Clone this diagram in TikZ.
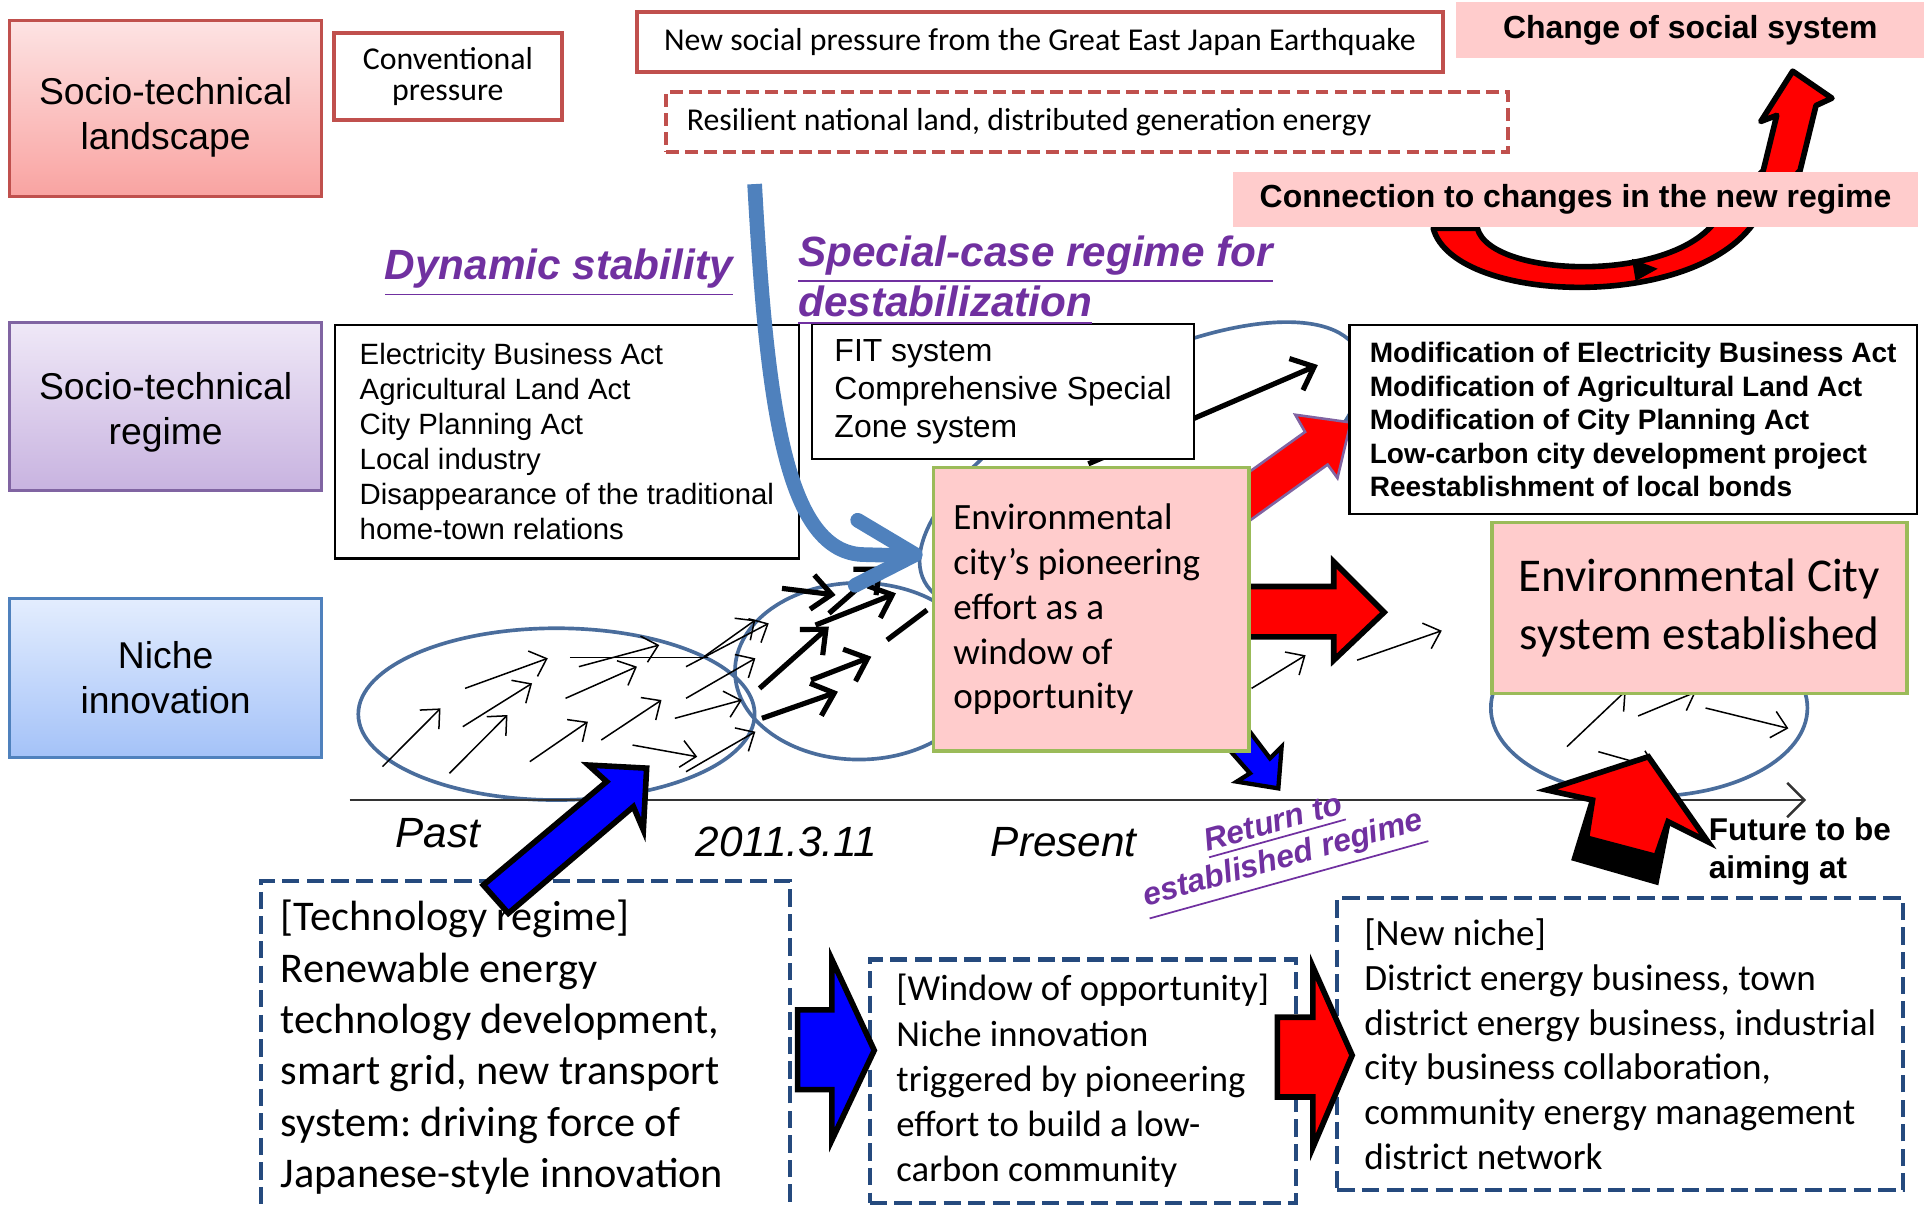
\documentclass[tikz,border=0pt]{standalone}
\usepackage{fontspec}
\setmainfont{Liberation Sans}
\newfontfamily\calfont{Carlito}
\usetikzlibrary{arrows.meta}
\newcommand{\fsz}[2]{\fontsize{#1}{#2}\selectfont}
\newcommand{\lowered}[2]{\raisebox{-#1}[\height][\depth]{#2}}
\frenchspacing

\begin{document}
\begin{tikzpicture}[x=0.01cm, y=-0.01cm,
    levelbox/.style={draw, line width=0.7pt, minimum width=2.54cm, align=center, font=\fsz{8.65}{10.4}},
    pressbox/.style={draw=boxred, line width=0.9pt, fill=white, font=\calfont\fsz{7.37}{7.3}},
    pinkbar/.style={fill=pinkfill, inner sep=0pt, font=\bfseries\fsz{7.4}{9}},
    lawbox/.style={draw, line width=0.6pt, fill=white, align=left},
    citybox/.style={draw=boxgreen, line width=0.8pt, fill=pinkfill, font=\calfont},
    nichebox/.style={draw=dashblue, line width=0.95pt, dash pattern=on 4pt off 1.7pt, fill=white, align=left, font=\calfont},
    bubble/.style={draw=ringblue, line width=0.85pt},
    flowthin/.style={-{Straight Barb[length=1.2mm,width=2.2mm]}, line width=0.35pt},
    flowthick/.style={-{Straight Barb[length=1.6mm,width=2.8mm]}, line width=1.2pt},
    purplab/.style={text=labpurple, inner sep=0pt, font=\bfseries\itshape\fsz{9.8}{11}},
    timelab/.style={inner sep=0pt, font=\itshape\fsz{9.8}{11}},
    blockout/.style={draw=black, line width=1.3pt},
  ]
  \definecolor{boxred}{HTML}{C0504D}
  \definecolor{pinkfill}{HTML}{FFCCCC}
  \definecolor{boxgreen}{HTML}{9BBB59}
  \definecolor{labpurple}{HTML}{7030A0}
  \definecolor{ringblue}{HTML}{4A6D9C}
  \definecolor{pipeblue}{HTML}{4F81BD}
  \definecolor{dashblue}{HTML}{254A7E}
  \definecolor{landtop}{HTML}{FDE3E3}
  \definecolor{landbot}{HTML}{F9A3A1}
  \definecolor{regtop}{HTML}{EFE8F7}
  \definecolor{regbot}{HTML}{C8B3E0}
  \definecolor{regedge}{HTML}{8064A2}
  \definecolor{nictop}{HTML}{E3EDFE}
  \definecolor{nicbot}{HTML}{A4C2F8}
  \useasboundingbox (0,0) rectangle (1568,984);

  \node[levelbox, top color=landtop, bottom color=landbot, draw=boxred, minimum height=1.43cm] (land) at (135,88.5) {\lowered{0.07cm}{Socio-technical}\\\lowered{0.07cm}{landscape}};
  \node[levelbox, top color=regtop, bottom color=regbot, draw=regedge, minimum height=1.37cm] (regime) at (135,331.5) {\lowered{0.045cm}{Socio-technical}\\\lowered{0.045cm}{regime}};
  \node[levelbox, top color=nictop, bottom color=nicbot, draw=pipeblue, minimum height=1.29cm] (niche) at (135,552.5) {Niche\\innovation};

  \node[pressbox, minimum width=1.86cm, minimum height=0.69cm, align=center] (conv) at (365,62.5) {Conventional\\pressure};
  \node[pressbox, minimum width=6.57cm, minimum height=0.49cm] (quake) at (847.5,34.5) {New social pressure from the Great East Japan Earthquake};
  \node[pressbox, dash pattern=on 3pt off 1.4pt, line width=1pt, minimum width=6.86cm, minimum height=0.49cm, text width=6.52cm, inner xsep=0.17cm, align=flush left] (resil) at (886,99.5) {Resilient national land, distributed generation energy};

  \filldraw[fill=red, blockout, line join=round] (1168,186) .. controls (1185,250) and (1395,255) .. (1435,172)
    -- (1467,139) -- (1480,86) -- (1493,80) -- (1461,58) -- (1435,99) -- (1448,94) -- (1437,139)
    -- (1403,172) .. controls (1375,232) and (1215,228) .. (1204,186) -- cycle;
  \fill (1330,211) -- (1351,219) -- (1333,229) -- cycle;
  \node[pinkbar, minimum width=3.81cm, minimum height=0.45cm] (social) at (1377.5,24.5) {Change of social system};
  \node[pinkbar, minimum width=5.58cm, minimum height=0.45cm] (conn) at (1284,162.5) {Connection to changes in the new regime};

  \draw[bubble] (453.5,582) ellipse [x radius=161.5, y radius=70];
  \draw[bubble] (700,547) ellipse [x radius=101, y radius=72];
  \draw[bubble, rotate around={28:(930,380)}] (930,380) ellipse [x radius=200, y radius=80];
  \draw[bubble] (1344,577) ellipse [x radius=129, y radius=72];

  \foreach \xa/\ya/\xb/\yb in {311.7/624.8/359/577.3, 366.3/630.2/413.6/582.7, 377.2/592.2/433.6/556.9,
      379/561/446.4/536.5, 431.8/620.7/479.1/588.2, 460.9/569.1/519.1/543.3, 471.8/543.3/537.3/525.7,
      490/603.1/539.1/570.5, 515.5/607.2/568.2/616.7, 550/585.4/604.6/570.5, 559.1/569.1/615.6/536.5,
      559.1/543.3/626.5/508, 573.7/535.2/615.6/505.3, 559.1/628.9/615.6/596.3,
      1020/561/1064/534, 1106/538/1175/514, 1390/577/1457.5/593.6, 1277/608.5/1325/563,
      1335/583.5/1382/564, 1302.6/612.6/1350/626}
    \draw[flowthin] (\xa,\ya) -- (\xb,\yb);
  \draw[line width=0.35pt] (464.5,535.7) -- (577.3,535.7);
  \foreach \xa/\ya/\xb/\yb in {619/561/675.5/510.7, 621/585.4/682.9/563.7, 661/554.2/710.1/535.2,
      664.6/509.4/730.2/483.5, 637.3/479.5/681/484.9, 675.6/499.9/719.2/461.8, 887/378/1074/297.5}
    \draw[flowthick] (\xa,\ya) -- (\xb,\yb);
  \draw[line width=1.2pt] (722.9,521.6) -- (755.5,497.1);

  \coordinate (past end) at (285,652);
  \coordinate (future end) at (1472,652);
  \draw[-{Straight Barb[length=1.4mm,width=2.8mm]}, line width=0.6pt, black!80] (past end) -- (future end);

  \node[lawbox, minimum width=3.78cm, minimum height=1.90cm, font=\fsz{6.8}{8.1}] (acts) at (462,360) {Electricity Business Act\\Agricultural Land Act\\City Planning Act\\Local industry\\Disappearance of the traditional\\home-town relations};
  \node[lawbox, minimum width=3.11cm, minimum height=1.10cm, font=\fsz{7.4}{8.8}] (fit) at (817.5,319) {FIT system\\Comprehensive Special\\Zone system};

  \coordinate (pipe top) at (615,150);
  \coordinate (pipe end) at (742,453);
  \draw[pipeblue, line width=3.4pt] (pipe top) .. controls (625,330) and (640,452) .. (705,452) -- (pipe end);
  \draw[pipeblue, line width=3.4pt, line cap=round, line join=round] (699,424) -- (746,452) -- (697,477);

  \filldraw[fill=blue, draw=black, line width=1pt] (1010,585) -- (1035,618) -- (1044.5,608.5) -- (1041.8,642.5) -- (1007.9,637) -- (1018.7,630.2) -- (993,601) -- cycle;
  \filldraw[fill=red, blockout] (1000,478) -- (1087,478) -- (1087,458) -- (1128,499) -- (1087,538) -- (1087,519) -- (1000,519) -- cycle;
  \filldraw[fill=red, draw=regedge, line width=0.6pt] (1005,394) -- (1063.6,352) -- (1055.6,338) -- (1100.8,344.3) -- (1090,389.6) -- (1082,378.6) -- (1005,434) -- cycle;

  \node[citybox, minimum width=2.57cm, minimum height=2.31cm, text width=2.25cm, inner xsep=0.16cm, align=flush left, font=\calfont\fsz{8.6}{10.4}] (pioneer) at (889.5,496.5) {Environmental\\city’s pioneering\\effort as a\\window of\\opportunity};
  \node[lawbox, minimum width=4.62cm, minimum height=1.54cm, font=\bfseries\fsz{6.5}{7.8}] (mods) at (1331,342) {Modification of Electricity Business Act\\Modification of Agricultural Land Act\\Modification of City Planning Act\\Low-carbon city development project\\Reestablishment of local bonds};
  \node[citybox, minimum width=3.38cm, minimum height=1.39cm, align=center, font=\calfont\fsz{10.9}{13.4}] (ecity) at (1385,495.5) {Environmental City\\system established};

  \node[purplab, anchor=base west] (dynamic) at (313,228) {\underline{Dynamic stability}};
  \node[purplab, anchor=base west] (special) at (650,217) {\underline{Special-case regime for}};
  \node[purplab, anchor=base west] (destab) at (650,258) {\underline{destabilization}};

  \node[timelab] (past) at (357,679) {Past};
  \node[timelab] (day) at (641,686) {2011.3.11};
  \node[timelab] (present) at (867,686) {Present};
  \node[purplab, align=center, font=\bfseries\itshape\fsz{7.4}{8.5}, rotate=15.5] (back) at (1043,690) {\underline{Return to}\\\underline{established regime}};

  \node[nichebox, minimum width=4.31cm, minimum height=2.71cm, text width=3.99cm, inner xsep=0.16cm, align=flush left, font=\calfont\fsz{9.8}{11.9}] (tech) at (428.5,853.5) {[Technology regime]\\Renewable energy\\technology development,\\smart grid, new transport\\system: driving force of\\Japanese-style innovation};
  \node[nichebox, minimum width=3.47cm, minimum height=1.98cm, font=\calfont\fsz{8.5}{10.5}] (window) at (882.5,881) {[Window of opportunity]\\Niche innovation\\triggered by pioneering\\effort to build a low-\\carbon community};
  \node[nichebox, minimum width=4.61cm, minimum height=2.38cm, font=\calfont\fsz{8.6}{10.4}] (newniche) at (1320.5,851) {[New niche]\\District energy business, town\\district energy business, industrial\\city business collaboration,\\community energy management\\district network};

  \filldraw[fill=blue, blockout] (393.9,721.3) -- (494.4,637) -- (479.5,623.5) -- (527,626) -- (524.3,676.4) -- (516.2,657.4) -- (414.3,744.3) -- cycle;
  \filldraw[fill=blue, blockout] (650,823) -- (678,823) -- (678,782) -- (712.5,856) -- (678,929) -- (678,888) -- (650,888) -- cycle;
  \filldraw[fill=red, blockout] (1041,829) -- (1070,829) -- (1070,788) -- (1102,860) -- (1070,935) -- (1070,894) -- (1041,894) -- cycle;
  \filldraw[fill=black, blockout] (1297.9,652) -- (1359.4,669.7) -- (1349.7,718.6) -- (1283.3,699.5) -- cycle;
  \filldraw[fill=red, blockout] (1293,683) -- (1297.9,652) -- (1260.5,643.8) -- (1343.4,616.7) -- (1391.9,686) -- (1359.4,669.7) -- (1349.7,698) -- cycle;

  \node[inner sep=0pt, anchor=west, align=left, font=\bfseries\fsz{7.3}{8.8}] (future) at (1392,694) {Future to be\\aiming at};
\end{tikzpicture}
\end{document}
